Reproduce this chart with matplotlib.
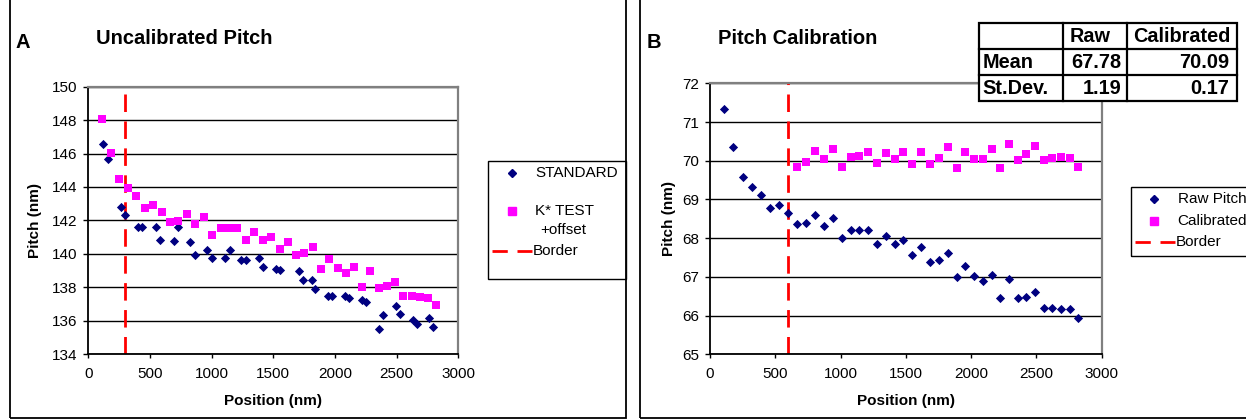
import matplotlib
matplotlib.use("Agg")
import matplotlib.pyplot as plt
from matplotlib.lines import Line2D
from matplotlib.patches import Rectangle

plt.rcParams['font.family'] = ['Liberation Sans', 'DejaVu Sans']

# ---------------- data: panel A ----------------
a_std_x = [117, 157, 265, 300, 406, 433, 550, 585, 695, 725, 825, 865, 965, 1005, 1110, 1150,
           1240, 1275, 1385, 1420, 1520, 1555, 1710, 1740, 1812, 1839, 1946, 1979, 2082, 2117,
           2217, 2252, 2358, 2393, 2493, 2525, 2631, 2663, 2766, 2798]
a_std_y = [146.57, 145.66, 142.82, 142.32, 141.62, 141.60, 141.60, 140.83, 140.77, 141.60,
           140.70, 139.90, 140.20, 139.75, 139.75, 140.20, 139.65, 139.65, 139.75, 139.20,
           139.10, 139.05, 138.95, 138.45, 138.45, 137.90, 137.50, 137.45, 137.50, 137.35,
           137.25, 137.10, 135.50, 136.35, 136.85, 136.40, 136.05, 135.80, 136.15, 135.60]
a_k_x = [109, 182, 249, 320, 390, 458, 528, 596, 663, 731, 799, 869, 937, 1005, 1074, 1141,
         1209, 1277, 1345, 1416, 1483, 1551, 1620, 1687, 1752, 1820, 1887, 1955, 2023, 2090,
         2155, 2222, 2287, 2355, 2422, 2490, 2555, 2623, 2688, 2755, 2820]
a_k_y = [148.05, 146.02, 144.46, 143.92, 143.48, 142.76, 142.92, 142.52, 141.92, 141.98,
         142.38, 141.80, 142.19, 141.10, 141.53, 141.53, 141.54, 140.83, 141.31, 140.83,
         141.02, 140.27, 140.69, 139.91, 140.03, 140.39, 139.11, 139.69, 139.17, 138.87,
         139.23, 138.01, 138.99, 137.97, 138.07, 138.33, 137.46, 137.46, 137.43, 137.37,
         136.95]
a_border_x = 300

# ---------------- data: panel B ----------------
b_raw_x = [110, 179, 250, 319, 388, 459, 528, 595, 664, 733, 802, 871, 940, 1009, 1078, 1144,
           1212, 1276, 1345, 1414, 1480, 1549, 1618, 1687, 1756, 1822, 1889, 1955, 2024, 2090,
           2157, 2223, 2289, 2356, 2422, 2489, 2555, 2621, 2688, 2754, 2820]
b_raw_y = [71.34, 70.35, 69.59, 69.33, 69.12, 68.78, 68.86, 68.66, 68.37, 68.40, 68.60, 68.32,
           68.51, 68.00, 68.20, 68.20, 68.20, 67.84, 68.06, 67.84, 67.94, 67.57, 67.76, 67.39,
           67.44, 67.62, 67.00, 67.28, 67.02, 66.89, 67.04, 66.45, 66.95, 66.45, 66.48, 66.62,
           66.19, 66.20, 66.18, 66.16, 65.95]
b_cal_x = [664, 733, 802, 871, 940, 1009, 1078, 1144, 1212, 1280, 1345, 1414, 1480, 1549, 1618,
           1687, 1756, 1822, 1889, 1955, 2024, 2090, 2157, 2223, 2289, 2356, 2422, 2489, 2555,
           2621, 2688, 2754, 2820]
b_cal_y = [69.85, 69.96, 70.25, 70.04, 70.30, 69.83, 70.09, 70.13, 70.22, 69.93, 70.21, 70.05,
           70.23, 69.92, 70.22, 69.92, 70.06, 70.36, 69.82, 70.22, 70.05, 70.04, 70.31, 69.82,
           70.44, 70.03, 70.17, 70.39, 70.02, 70.08, 70.10, 70.08, 69.84]
b_border_x = 600

legend_a = ["STANDARD", "K* TEST", "+offset", "Border"]
legend_b = ["Raw Pitch", "Calibrated", "Border"]

table_cols = ["", "Raw", "Calibrated"]
table_rows = ["Mean", "St.Dev."]
table_raw = ["67.78", "1.19"]
table_cal = ["70.09", "0.17"]

NAVY = "#000080"
MAG = "#FF00FF"
RED = "#FF0000"

W, H = 1246, 419
fig = plt.figure(figsize=(W / 100, H / 100), dpi=100)


def fx(px):
    return px / W


def fy(py):
    return 1 - py / H


TF = fig.transFigure
DASH = (6.3, 3.4)


def style_axes(ax, ylim, yticks, xlab_y, ylab_x):
    ax.set_xlim(0, 3000)
    ax.set_ylim(*ylim)
    ax.set_xticks(range(0, 3001, 500))
    ax.set_yticks(yticks)
    ax.grid(axis='y', color='black', linewidth=1.0)
    ax.set_axisbelow(True)
    for s in ['top', 'right']:
        ax.spines[s].set_color('#808080')
        ax.spines[s].set_linewidth(1.6)
    for s in ['left', 'bottom']:
        ax.spines[s].set_color('black')
        ax.spines[s].set_linewidth(1.3)
    ax.tick_params(axis='y', direction='out', length=3.5, width=1, labelsize=11, pad=4.5)
    ax.tick_params(axis='x', direction='out', length=3, width=1, labelsize=11, pad=6)
    ax.set_xlabel("Position (nm)", fontsize=11, fontweight='bold')
    ax.set_ylabel("Pitch (nm)", fontsize=11, fontweight='bold')
    ax.xaxis.set_label_coords(0.5, xlab_y)
    ax.yaxis.set_label_coords(ylab_x, 0.5)


def marker(px, py, m, color, size):
    fig.add_artist(Line2D([fx(px)], [fy(py)], marker=m, color=color, markersize=size,
                          linestyle='none', transform=TF))


def dash_seg(x0, x1, py):
    fig.add_artist(Line2D([fx(x0), fx(x1)], [fy(py), fy(py)], color=RED, linewidth=2,
                          dashes=(5.5, 3.5), transform=TF))


# panel frames
for (x0, x1) in [(10, 626), (640, 1260)]:
    fig.add_artist(Rectangle((fx(x0), fy(418)), fx(x1) - fx(x0), fy(-5) - fy(418),
                             transform=TF, fill=False, edgecolor='black', linewidth=1.3))

# ---------------- panel A ----------------
axA = fig.add_axes([fx(88.3), fy(354), fx(458.3) - fx(88.3), fy(86.7) - fy(354)])
axA.scatter(a_std_x, a_std_y, marker='D', s=22, color=NAVY, zorder=3, linewidths=0)
axA.scatter(a_k_x, a_k_y, marker='s', s=34, color=MAG, zorder=3, linewidths=0)
axA.axvline(a_border_x, color=RED, linewidth=2.0, dashes=DASH, ymax=0.976, zorder=2)
style_axes(axA, (134, 150), range(134, 151, 2), -0.150, -0.126)
fig.text(fx(15), fy(43), "A", fontsize=14.5, fontweight='bold', va='center')
fig.text(fx(96), fy(39), "Uncalibrated Pitch", fontsize=14.5, fontweight='bold', va='center')

# legend A
fig.add_artist(Rectangle((fx(488), fy(278.5)), fx(626) - fx(488), fy(160.5) - fy(278.5),
                         transform=TF, fill=False, edgecolor='black', linewidth=1))
marker(511.7, 173.3, 'D', NAVY, 4.5)
fig.text(fx(535), fy(173.3), legend_a[0], fontsize=11, va='center')
marker(511.7, 211, 's', MAG, 6)
fig.text(fx(535), fy(211), legend_a[1], fontsize=11, va='center')
fig.text(fx(540), fy(230), legend_a[2], fontsize=11, va='center')
dash_seg(491.7, 531.7, 251)
fig.text(fx(533), fy(251), legend_a[3], fontsize=11, va='center')

# ---------------- panel B ----------------
axB = fig.add_axes([fx(710), fy(354.3), fx(1101.7) - fx(710), fy(83.3) - fy(354.3)])
axB.scatter(b_raw_x, b_raw_y, marker='D', s=22, color=NAVY, zorder=3, linewidths=0)
axB.scatter(b_cal_x, b_cal_y, marker='s', s=34, color=MAG, zorder=3, linewidths=0)
axB.axvline(b_border_x, color=RED, linewidth=2.0, dashes=DASH, zorder=2)
style_axes(axB, (65, 72), range(65, 73, 1), -0.148, -0.088)
fig.text(fx(647), fy(42), "B", fontsize=14.5, fontweight='bold', va='center')
fig.text(fx(718), fy(38), "Pitch Calibration", fontsize=14.5, fontweight='bold', va='center')

# legend B
fig.add_artist(Rectangle((fx(1131), fy(256)), fx(1270) - fx(1131), fy(186.7) - fy(256),
                         transform=TF, fill=False, edgecolor='black', linewidth=1))
marker(1154.3, 199, 'D', NAVY, 4.5)
fig.text(fx(1177.7), fy(199), legend_b[0], fontsize=11, va='center')
marker(1154.3, 220.7, 's', MAG, 6)
fig.text(fx(1177.7), fy(220.7), legend_b[1], fontsize=11, va='center')
dash_seg(1135, 1175, 242.3)
fig.text(fx(1176), fy(242.3), legend_b[2], fontsize=11, va='center')

# table
col_edges = [979.3, 1062.7, 1126.7, 1236.7]
row_edges = [23.5, 49.5, 75.5, 101.5]
fig.add_artist(Rectangle((fx(col_edges[0]), fy(row_edges[-1])),
                         fx(col_edges[-1]) - fx(col_edges[0]), fy(row_edges[0]) - fy(row_edges[-1]),
                         transform=TF, facecolor='white', edgecolor='black',
                         linewidth=1.6, zorder=5))
for c in col_edges[1:-1]:
    fig.add_artist(Line2D([fx(c), fx(c)], [fy(row_edges[0]), fy(row_edges[-1])], color='black',
                          linewidth=1.6, transform=TF, zorder=6))
for r in row_edges[1:-1]:
    fig.add_artist(Line2D([fx(col_edges[0]), fx(col_edges[-1])], [fy(r), fy(r)], color='black',
                          linewidth=1.6, transform=TF, zorder=6))
tk = dict(fontsize=14.3, fontweight='bold', va='center', zorder=7)
ymid = [(row_edges[i] + row_edges[i + 1]) / 2 for i in range(3)]
fig.text(fx(1070), fy(ymid[0]), table_cols[1], ha='left', **tk)
fig.text(fx(1132.7), fy(ymid[0]), table_cols[2], ha='left', **tk)
for i in range(2):
    fig.text(fx(982.7), fy(ymid[i + 1]), table_rows[i], ha='left', **tk)
    fig.text(fx(1121.7), fy(ymid[i + 1]), table_raw[i], ha='right', **tk)
    fig.text(fx(1229.3), fy(ymid[i + 1]), table_cal[i], ha='right', **tk)

fig.savefig("out.png", dpi=100)
